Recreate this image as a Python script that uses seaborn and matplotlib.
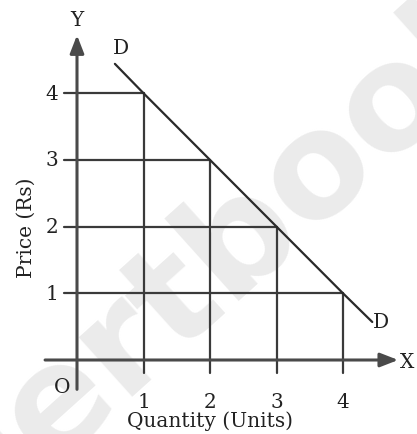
import matplotlib
matplotlib.use("Agg")
import matplotlib.pyplot as plt
import seaborn as sns
import pandas as pd

# ---- data ----
quantity = [1, 2, 3, 4]
price = [4, 3, 2, 1]
x_tick_labels = ["1", "2", "3", "4"]
y_tick_labels = ["1", "2", "3", "4"]
demand_qty = [0.57, 1, 2, 3, 4, 4.44]
demand_price = [4.44, 4, 3, 2, 1, 0.57]
x_label = "Quantity (Units)"
y_label = "Price (Rs)"
curve_label = "D"
watermark = "certbook"

sns.set_theme(style="white")
plt.rcParams["font.family"] = ["DejaVu Serif", "DejaVu Sans"]

W, H = 417, 435
fig = plt.figure(figsize=(W / 100, H / 100), dpi=100)
ax = fig.add_axes([0, 0, 1, 1])
ox, oy, ux, uy = 77, 361, 66.5, 66.7
ax.set_xlim(-ox / ux, (W - ox) / ux)
ax.set_ylim(-(H - oy) / uy, oy / uy)

# faint watermark
ax.text(2.30, 1.68, watermark, fontsize=106, fontweight="bold", family="DejaVu Sans",
        color="#ebebeb", rotation=42, ha="center", va="center", zorder=0,
        clip_on=True)

line_col = "#3a3a3a"
# guide lines
for q, p in zip(quantity, price):
    ax.plot([-0.2, q], [p, p], color=line_col, lw=1.6, zorder=2)
    ax.plot([q, q], [-0.2, p], color=line_col, lw=1.6, zorder=2)

# demand curve
df = pd.DataFrame({"q": demand_qty, "p": demand_price})
sns.lineplot(data=df, x="q", y="p", ax=ax, color="#2a2a2a", lw=1.6, zorder=3,
             sort=False)
ax.set_xlabel("")
ax.set_ylabel("")
ax.axis("off")

# axes with arrows
ax.annotate("", xy=(0, 4.87), xytext=(0, -0.44),
            arrowprops=dict(arrowstyle="-|>,head_length=0.9,head_width=0.35",
                            color="#4a4a4a", lw=2.2, shrinkA=0, shrinkB=0), zorder=4)
ax.annotate("", xy=(4.83, 0), xytext=(-0.48, 0),
            arrowprops=dict(arrowstyle="-|>,head_length=0.9,head_width=0.35",
                            color="#4a4a4a", lw=2.2, shrinkA=0, shrinkB=0), zorder=4)

fs = 14.5
tc = "#222222"
for q, lab in zip(quantity, x_tick_labels):
    ax.text(q, -0.62, lab, fontsize=fs, ha="center", va="center", color=tc)
for p, lab in zip(sorted(price), y_tick_labels):
    ax.text(-0.376, p, lab, fontsize=fs, ha="center", va="center", color=tc)

ax.text(0, 5.10, "Y", fontsize=fs, ha="center", va="center", color=tc)
ax.text(4.96, -0.015, "X", fontsize=fs, ha="center", va="center", color=tc)
ax.text(-0.22, -0.39, "O", fontsize=fs, ha="center", va="center", color=tc)
ax.text(0.66, 4.68, curve_label, fontsize=fs, ha="center", va="center", color=tc)
ax.text(4.57, 0.57, curve_label, fontsize=fs, ha="center", va="center", color=tc)

ax.text(2.0, -0.9, x_label, fontsize=fs, ha="center", va="center", color=tc)
ax.text(-0.77, 2.0, y_label, fontsize=fs, ha="center", va="center", color=tc,
        rotation=90)

fig.savefig("out.png", dpi=100)
